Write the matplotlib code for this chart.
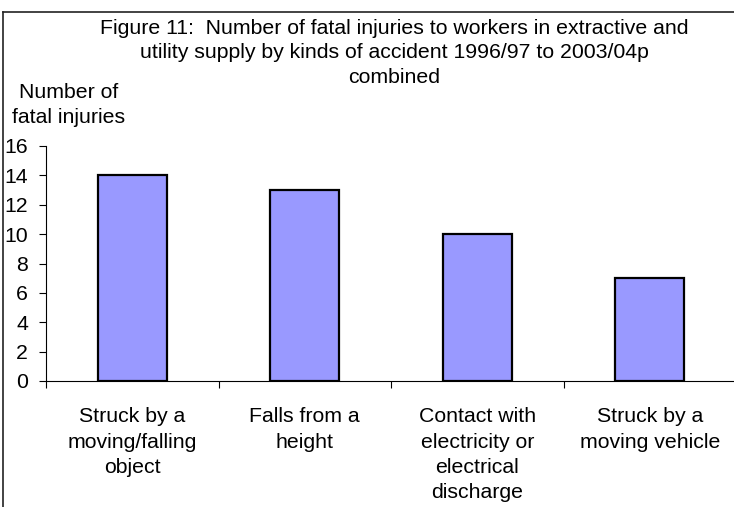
import matplotlib
matplotlib.use("Agg")
import matplotlib.pyplot as plt
from matplotlib.lines import Line2D

plt.rcParams['font.family'] = ['Liberation Sans', 'DejaVu Sans']

categories = ["Struck by a\nmoving/falling\nobject", "Falls from a\nheight",
              "Contact with\nelectricity or\nelectrical\ndischarge", "Struck by a\nmoving vehicle"]
values = [14, 13, 10, 7]
yticks = [0, 2, 4, 6, 8, 10, 12, 14, 16]
title = ("Figure 11:  Number of fatal injuries to workers in extractive and\n"
         "utility supply by kinds of accident 1996/97 to 2003/04p\ncombined")
ylabel = "Number of\nfatal injuries"

W, H = 734, 507
fig = plt.figure(figsize=(W / 100, H / 100), dpi=100)
ax = fig.add_axes([46 / W, 1 - 381 / H, (736 - 46) / W, (381 - 146) / H])

x = list(range(len(categories)))
ax.bar(x, values, width=0.4, color="#9999FF", edgecolor="black", linewidth=1.6, zorder=3)

ax.set_xlim(-0.5, len(categories) - 0.5)
ax.set_ylim(0, 16)
ax.set_yticks(yticks)
ax.set_yticklabels([str(t) for t in yticks])
ax.set_xticks([i - 0.5 for i in range(len(categories) + 1)])
ax.set_xticklabels([])
ax.set_xticks(x, minor=True)
ax.set_xticklabels(categories, minor=True, fontsize=15.3, linespacing=1.42)
ax.tick_params(axis='x', which='minor', length=0, pad=19)
ax.tick_params(axis='x', which='major', direction='out', length=5, width=0.8)
ax.tick_params(axis='y', direction='out', length=5, width=0.8, labelsize=15.3, pad=8)

for s in ('top', 'right'):
    ax.spines[s].set_visible(False)
for s in ('left', 'bottom'):
    ax.spines[s].set_linewidth(0.8)

fig.text(394 / W, 1 - 19 / H, title, ha='center', va='top', fontsize=15.3, linespacing=1.36)
fig.text(69 / W, 1 - 83 / H, ylabel, ha='center', va='top', fontsize=15.3, linespacing=1.38)

fig.add_artist(Line2D([3 / W, 1.0], [1 - 12 / H, 1 - 12 / H], transform=fig.transFigure, color='#222222', lw=1.2))
fig.add_artist(Line2D([3 / W, 3 / W], [0, 1 - 12 / H], transform=fig.transFigure, color='#222222', lw=1.2))

fig.savefig("out.png", dpi=100)
